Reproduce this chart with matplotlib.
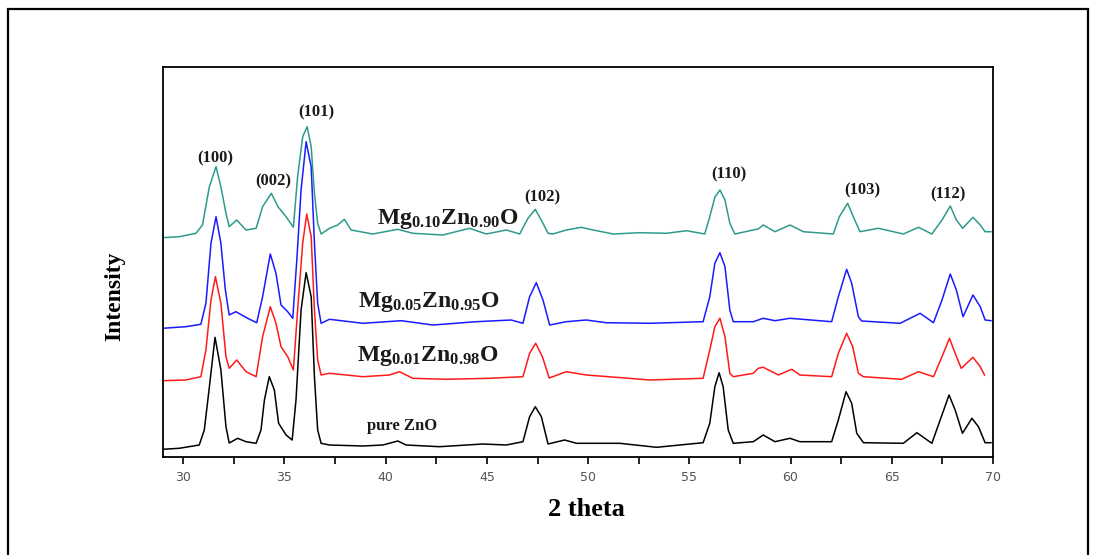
import numpy as np
import matplotlib
matplotlib.use('Agg')
import matplotlib.pyplot as plt
from matplotlib.patches import Rectangle
from matplotlib.ticker import MultipleLocator

plt.rcParams['mathtext.fontset'] = 'custom'
plt.rcParams['mathtext.rm'] = 'Liberation Serif:bold'
plt.rcParams['mathtext.bf'] = 'Liberation Serif:bold'
plt.rcParams['mathtext.it'] = 'Liberation Serif:bold'

# XRD patterns (2 theta, intensity a.u. incl. stacking offset)
tt_zno = [28.98, 29.80, 30.79, 31.04, 31.29, 31.57, 31.86, 32.11, 32.27, 32.69, 33.10, 33.60,
          33.84, 34.01, 34.25, 34.50, 34.71, 35.08, 35.38, 35.57, 35.82, 36.07, 36.32, 36.48,
          36.64, 36.81, 37.22, 38.87, 39.86, 40.60, 41.01, 42.66, 44.80, 45.96, 46.78, 47.11,
          47.39, 47.69, 48.02, 48.84, 49.42, 51.56, 53.38, 55.68, 56.01, 56.26, 56.47, 56.67,
          56.92, 57.17, 58.16, 58.65, 59.23, 59.97, 60.46, 62.03, 62.36, 62.74, 63.02, 63.27,
          63.60, 65.57, 66.24, 66.98, 67.39, 67.83, 68.13, 68.49, 68.96, 69.28, 69.61, 69.90]
int_zno = [7.7, 8.7, 12, 27, 70, 119.7, 87, 30.3, 14, 18.7, 15.3, 13.7,
           27, 57, 80.3, 67, 33.7, 22, 17, 57, 147, 184.3, 160.3, 80.3,
           27, 13.7, 12, 11, 12, 16, 12, 10.3, 13, 12, 15.3, 40.3,
           50.3, 40.3, 13, 17, 13.7, 13.7, 9.7, 14.3, 33.7, 70.3, 84.3, 70.3,
           27, 13.7, 15.3, 22, 15.3, 18.7, 15.3, 15.3, 37, 65.3, 53.7, 23.7,
           14.3, 13.7, 24.3, 13.7, 37, 62, 47, 23.7, 38.7, 30.3, 14.3, 14.3]

tt_mg01 = [28.98, 30.13, 30.87, 31.12, 31.37, 31.59, 31.86, 32.11, 32.27, 32.64, 33.10, 33.60,
           33.92, 34.30, 34.58, 34.83, 35.16, 35.44, 35.65, 35.90, 36.10, 36.32, 36.48, 36.64,
           36.81, 37.22, 38.87, 40.19, 40.68, 41.34, 42.99, 45.13, 46.78, 47.11, 47.41, 47.74,
           48.08, 48.92, 49.91, 51.39, 53.05, 55.68, 56.01, 56.26, 56.51, 56.76, 57.00, 57.17,
           58.16, 58.40, 58.65, 59.40, 60.06, 60.46, 62.03, 62.36, 62.77, 63.07, 63.35, 63.60,
           65.49, 66.32, 67.06, 67.48, 67.85, 68.13, 68.43, 69.01, 69.37, 69.58]
int_mg01 = [76.3, 77, 80.3, 107, 157, 180.3, 153.7, 100.3, 88.7, 97, 85.3, 80.3,
            120.3, 150.3, 133.7, 110.3, 100.3, 87, 147, 213.7, 243, 220.3, 147, 97,
            82, 83.7, 80.3, 82, 85.3, 78.7, 77.7, 78.7, 80.3, 103.7, 113.7, 100.3,
            79, 85.3, 82, 79.7, 77, 78.7, 107, 130.3, 138.7, 120.3, 83.7, 80.3,
            83.7, 88.7, 89.7, 82, 87.7, 82, 80.3, 103.7, 123.7, 110.3, 83.7, 80.3,
            77.7, 85.3, 80.3, 100.3, 118.7, 103.7, 88.7, 99.7, 90.3, 82]

tt_mg05 = [28.98, 30.13, 30.87, 31.12, 31.37, 31.62, 31.86, 32.08, 32.27, 32.60, 33.18, 33.63,
           33.92, 34.30, 34.58, 34.83, 35.16, 35.41, 35.61, 35.82, 36.07, 36.32, 36.48, 36.64,
           36.81, 37.22, 38.87, 40.77, 42.33, 44.47, 46.20, 46.78, 47.11, 47.44, 47.77, 48.10,
           48.92, 49.91, 50.89, 53.05, 55.68, 56.01, 56.26, 56.51, 56.76, 57.00, 57.17, 58.16,
           58.65, 59.23, 59.97, 62.03, 62.36, 62.77, 63.02, 63.35, 63.51, 65.41, 66.40, 67.06,
           67.48, 67.89, 68.19, 68.52, 69.01, 69.37, 69.61, 69.90]
int_mg05 = [128.7, 130.3, 132.7, 153.7, 213.7, 240.3, 213.7, 167, 142, 145.3, 138.7, 134.3,
            160.3, 203, 183.7, 152, 145.3, 138.7, 197, 267, 315.3, 290.3, 213.7, 153.7,
            133.7, 137.7, 133.7, 136.3, 132, 135.3, 137, 133.7, 160.3, 174.3, 157, 132,
            135.3, 137, 134.3, 133.7, 135.3, 160.3, 193.7, 204.3, 190.3, 147, 135.3, 135.3,
            138.7, 136.3, 138.7, 135.3, 160.3, 187.7, 173.7, 140.3, 136, 133.7, 143.7, 134.3,
            157, 183, 167, 140.3, 162, 150.3, 137, 136.3]

tt_mg10 = [28.98, 29.80, 30.63, 30.95, 31.29, 31.62, 31.86, 32.11, 32.27, 32.64, 33.10, 33.60,
           33.92, 34.35, 34.68, 35.08, 35.44, 35.65, 35.90, 36.12, 36.32, 36.48, 36.64, 36.81,
           37.22, 37.63, 37.96, 38.29, 39.36, 40.60, 41.34, 42.82, 44.14, 44.97, 45.96, 46.62,
           47.03, 47.39, 47.77, 48.02, 48.26, 48.92, 49.67, 50.08, 51.24, 52.55, 53.87, 54.86,
           55.76, 56.01, 56.26, 56.51, 56.76, 57.00, 57.25, 57.99, 58.40, 58.65, 59.23, 59.97,
           60.63, 62.11, 62.41, 62.82, 63.17, 63.43, 64.34, 65.57, 66.32, 66.98, 67.48, 67.89,
           68.19, 68.50, 69.01, 69.37, 69.61, 69.90]
int_mg10 = [219.3, 220.3, 223.7, 232, 270.3, 290.3, 270.3, 243.7, 230.3, 237, 227, 228.7,
            250.3, 263.7, 250.3, 240.3, 229.7, 280.3, 320.3, 330.3, 310.3, 263.7, 233.7, 223,
            228.7, 232, 237.7, 227, 223, 227.7, 223.7, 222, 228.7, 223, 227, 223,
            238.7, 247.7, 233.7, 223.7, 223, 227, 229.7, 227.7, 223, 224.3, 223.7, 226.3,
            223, 240.3, 259.7, 267, 257, 233.7, 223, 226.3, 228, 232, 225.3, 232,
            225.3, 223, 240.3, 253.7, 237, 225.3, 228.7, 223, 229.7, 223, 237, 251,
            237, 228.7, 239.7, 232, 225.3, 225.3]

series = [(tt_zno, int_zno, 'black'),
          (tt_mg01, int_mg01, '#ff1a1a'),
          (tt_mg05, int_mg05, '#1a1aff'),
          (tt_mg10, int_mg10, '#2e9a8c')]

hkl_labels = ['(100)', '(002)', '(101)', '(102)', '(110)', '(103)', '(112)']
hkl_x = [31.58, 34.45, 36.58, 47.75, 56.95, 63.53, 67.78]
hkl_y = [299, 276, 345, 260, 283, 267, 263]

sample_labels = [r'$\mathbf{Mg_{0.10}Zn_{0.90}O}$', r'$\mathbf{Mg_{0.05}Zn_{0.95}O}$',
                 r'$\mathbf{Mg_{0.01}Zn_{0.98}O}$']
sample_x = [43.06, 42.12, 42.07]
sample_y = [238, 155, 101]

W, H = 1095, 555
fig = plt.figure(figsize=(W / 100, H / 100), dpi=100)
fig.patch.set_facecolor('white')

# outer frame around the whole figure
fig.patches.append(Rectangle((8 / W, -0.05), 1080 / W, 1.05 - 9 / H, transform=fig.transFigure,
                             fill=False, lw=1.6, ec='black'))

ax = fig.add_axes([163 / W, 1 - 457 / H, 830 / W, 390 / H])
for tt, it, c in series:
    ax.plot(tt, it, color=c, lw=1.1)

ax.set_xlim(29, 70)
ax.set_ylim(0, 390)
ax.xaxis.set_major_locator(MultipleLocator(5))
ax.xaxis.set_minor_locator(MultipleLocator(2.5))
ax.tick_params(axis='x', which='both', direction='out', length=5, width=1.2,
               labelsize=9, labelcolor='#555555', pad=5)
ax.set_yticks([])
for s in ax.spines.values():
    s.set_linewidth(1.3)

for lab, x, y in zip(hkl_labels, hkl_x, hkl_y):
    ax.text(x, y, lab, ha='center', va='center', fontsize=12, fontweight='bold',
            family='Liberation Serif', color='#1a1a1a')

for lab, x, y in zip(sample_labels, sample_x, sample_y):
    ax.text(x, y, lab, ha='center', va='center', fontsize=17, color='#1a1a1a')
ax.text(40.83, 31, 'pure ZnO', ha='center', va='center', fontsize=12, fontweight='bold',
        family='Liberation Serif', color='#1a1a1a')

fig.text(586 / W, 1 - 510 / H, '2 theta', ha='center', va='center', fontsize=19,
         fontweight='bold', family='Liberation Serif')
fig.text(115 / W, 1 - 296 / H, 'Intensity', ha='center', va='center', rotation=90,
         fontsize=17, fontweight='bold', family='Liberation Serif')

fig.savefig('out.png', dpi=100)
